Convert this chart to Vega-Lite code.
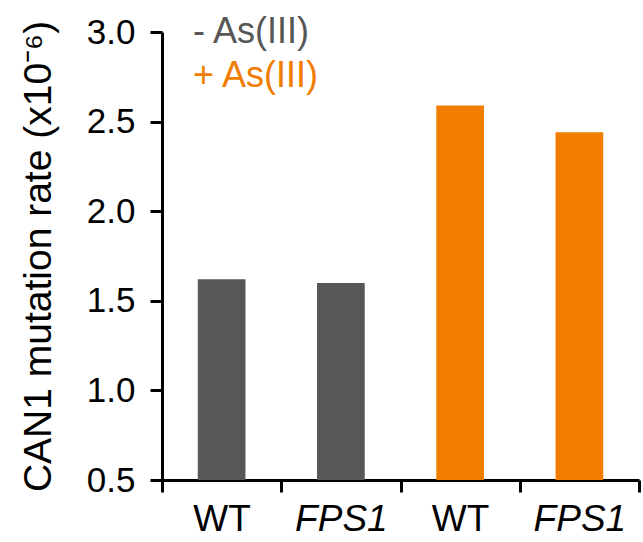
{
  "$schema": "https://vega.github.io/schema/vega-lite/v6.json",
  "width": 477,
  "height": 448,
  "autosize": {"type": "none"},
  "padding": {"left": 162, "top": 32, "right": 4, "bottom": 62},
  "background": "white",
  "config": {
    "view": {"stroke": null},
    "font": "Liberation Sans",
    "axis": {
      "domainColor": "black",
      "tickColor": "black",
      "labelColor": "black",
      "titleColor": "black",
      "domainWidth": 3,
      "tickWidth": 3,
      "tickSize": 12,
      "grid": false
    }
  },
  "data": {
    "values": [
      {"group": "WT -", "treatment": "- As(III)", "rate": 1.62},
      {"group": "FPS1 -", "treatment": "- As(III)", "rate": 1.6},
      {"group": "WT +", "treatment": "+ As(III)", "rate": 2.59},
      {"group": "FPS1 +", "treatment": "+ As(III)", "rate": 2.44}
    ]
  },
  "mark": {"type": "bar", "width": {"band": 0.4}},
  "encoding": {
    "x": {
      "field": "group",
      "type": "nominal",
      "sort": ["WT -", "FPS1 -", "WT +", "FPS1 +"],
      "scale": {"paddingInner": 0, "paddingOuter": 0},
      "axis": {
        "title": null,
        "labelAngle": 0,
        "labelExpr": "isString(datum.value) ? split(datum.value, ' ')[0] : ''",
        "tickBand": "extent",
        "labelFontSize": 37,
        "labelPadding": 9,
        "labelFontStyle": {"expr": "isString(datum.value) && indexof(datum.value, 'FPS1') >= 0 ? 'italic' : 'normal'"}
      }
    },
    "y": {
      "field": "rate",
      "type": "quantitative",
      "scale": {"domain": [0.5, 3], "nice": false, "zero": false},
      "axis": {
        "title": "CAN1 mutation rate (x10⁻⁶)",
        "titleFontSize": 39,
        "titleFontWeight": "normal",
        "titlePadding": 28,
        "values": [0.5, 1, 1.5, 2, 2.5, 3],
        "format": ".1f",
        "labelFontSize": 35,
        "labelPadding": 15
      }
    },
    "y2": {"datum": 0.5},
    "color": {
      "field": "treatment",
      "type": "nominal",
      "scale": {"domain": ["- As(III)", "+ As(III)"], "range": ["#575756", "#f07d00"]},
      "legend": {
        "title": null,
        "orient": "none",
        "legendX": -5,
        "legendY": -18,
        "padding": 0,
        "symbolSize": 0,
        "symbolOpacity": 0,
        "labelOffset": 0,
        "labelFontSize": 36,
        "labelLimit": 400,
        "rowPadding": 8,
        "labelColor": {"expr": "datum.value == '- As(III)' ? '#575756' : '#f07d00'"}
      }
    }
  }
}
